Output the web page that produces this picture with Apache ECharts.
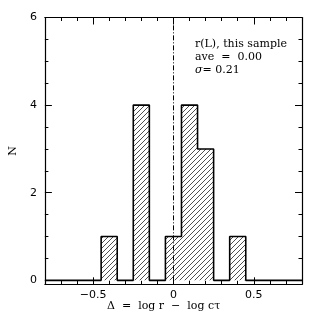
<!DOCTYPE html>
<html><head><meta charset="utf-8">
<script src="https://cdn.jsdelivr.net/npm/echarts@6/dist/echarts.min.js"></script>
<style>html,body{margin:0;padding:0;background:#fff}#c{width:319px;height:319px}</style>
</head><body><div id="c"></div>
<script>
// ---- data ----
var binCenters = [-0.7,-0.6,-0.5,-0.4,-0.3,-0.2,-0.1,0.0,0.1,0.2,0.3,0.4,0.5,0.6,0.7];
var counts     = [0,0,0,1,0,4,0,1,4,3,0,1,0,0,0];
var binWidth = 0.1;
var xRange = [-0.8, 0.8];
var yRange = [-0.09, 6];
var xMajorTicks = [-0.5, 0, 0.5];
var xMinorTicks = [-0.7,-0.6,-0.4,-0.3,-0.2,-0.1,0.1,0.2,0.3,0.4,0.6,0.7];
var yMajorTicks = [0, 2, 4, 6];
var yMinorTicks = [0.5,1,1.5,2.5,3,3.5,4.5,5,5.5];
var annotationTitle = 'r(L), this sample';
var aveText = 'ave  =  0.00';
var sigmaSymbol = '\u03c3';
var sigmaText = '= 0.21';
var meanValue = 0.0;

// step outline points from bins
var pts = [[xRange[0], 0]];
for (var i = 0; i < binCenters.length; i++) {
  pts.push([binCenters[i] - binWidth/2, counts[i]]);
  pts.push([binCenters[i] + binWidth/2, counts[i]]);
}
pts.push([xRange[1], 0]);

// hatch pattern
var S = 5;
var cv = document.createElement('canvas'); cv.width = S; cv.height = S;
var cx = cv.getContext('2d');
cx.strokeStyle = '#222'; cx.lineWidth = 0.8;
cx.beginPath();
cx.moveTo(0, S); cx.lineTo(S, 0);
cx.moveTo(-1, 1); cx.lineTo(1, -1);
cx.moveTo(S-1, S+1); cx.lineTo(S+1, S-1);
cx.stroke();

var chart = echarts.init(document.getElementById('c'));
var serif = '"DejaVu Serif", "Liberation Serif", serif';
var sans = '"DejaVu Sans", "Liberation Sans", sans-serif';
function xa(pos, ticks, len, labels, line) {
  return {type:'value', min:xRange[0], max:xRange[1], position:pos,
    axisLine:{show:line, onZero:false, lineStyle:{color:'#000', width:1.2}},
    axisTick:{show:true, inside:true, length:len, customValues:ticks, lineStyle:{color:'#000', width:1}},
    axisLabel:{show:labels, customValues:ticks, color:'#000', fontFamily:sans, fontSize:11, margin:5,
      formatter:function(v){ return v===0 ? '0' : (v<0 ? '\u2212'+Math.abs(v) : String(v)); }},
    splitLine:{show:false}};
}
function ya(pos, ticks, len, labels, line) {
  return {type:'value', min:yRange[0], max:yRange[1], position:pos,
    axisLine:{show:line, onZero:false, lineStyle:{color:'#000', width:1.2}},
    axisTick:{show:true, inside:true, length:len, customValues:ticks, lineStyle:{color:'#000', width:1}},
    axisLabel:{show:labels, customValues:ticks, color:'#000', fontFamily:sans, fontSize:11, margin:8},
    splitLine:{show:false}};
}
var yNameAxis = ya('left', yMajorTicks, 7, true, true);
yNameAxis.name = 'N'; yNameAxis.nameLocation = 'middle'; yNameAxis.nameGap = 21;
yNameAxis.nameRotate = 90;
yNameAxis.nameTextStyle = {fontFamily:serif, fontSize:11, color:'#000'};

chart.setOption({
  animation:false,
  backgroundColor:'#fff',
  grid:{left:35, right:17, top:17.5, bottom:34.7},
  xAxis:[xa('bottom', xMajorTicks, 7, true, true), xa('bottom', xMinorTicks, 3.5, false, false),
         xa('top', xMajorTicks, 7, false, true), xa('top', xMinorTicks, 3.5, false, false)],
  yAxis:[yNameAxis, ya('left', yMinorTicks, 3.5, false, false),
         ya('right', yMajorTicks, 7, false, true), ya('right', yMinorTicks, 3.5, false, false)],
  series:[{
    type:'line', data:pts, xAxisIndex:0, yAxisIndex:0, symbol:'none',
    lineStyle:{color:'#000', width:1.6},
    areaStyle:{color:{image:cv, repeat:'repeat'}, opacity:1, origin:0},
    markLine:{silent:true, symbol:'none', label:{show:false},
      lineStyle:{color:'#000', width:1, type:[5,2,1,2]},
      data:[[{coord:[meanValue, 0]}, {coord:[meanValue, yRange[1]]}]]}
  }],
  graphic:[
    {type:'text', left:195, top:38, style:{
      text:annotationTitle + '\n' + aveText + '\n{i|' + sigmaSymbol + '}' + sigmaText,
      fontFamily:serif, fontSize:11, lineHeight:12.7, fill:'#000',
      rich:{i:{fontFamily:serif, fontStyle:'italic', fontSize:11, fill:'#000'}}}},
    {type:'text', left:107, top:301, style:{text:'\u0394  =  log r  \u2212  log c\u03c4', fontFamily:serif, fontSize:11, fill:'#000'}}
  ]
});
</script></body></html>
